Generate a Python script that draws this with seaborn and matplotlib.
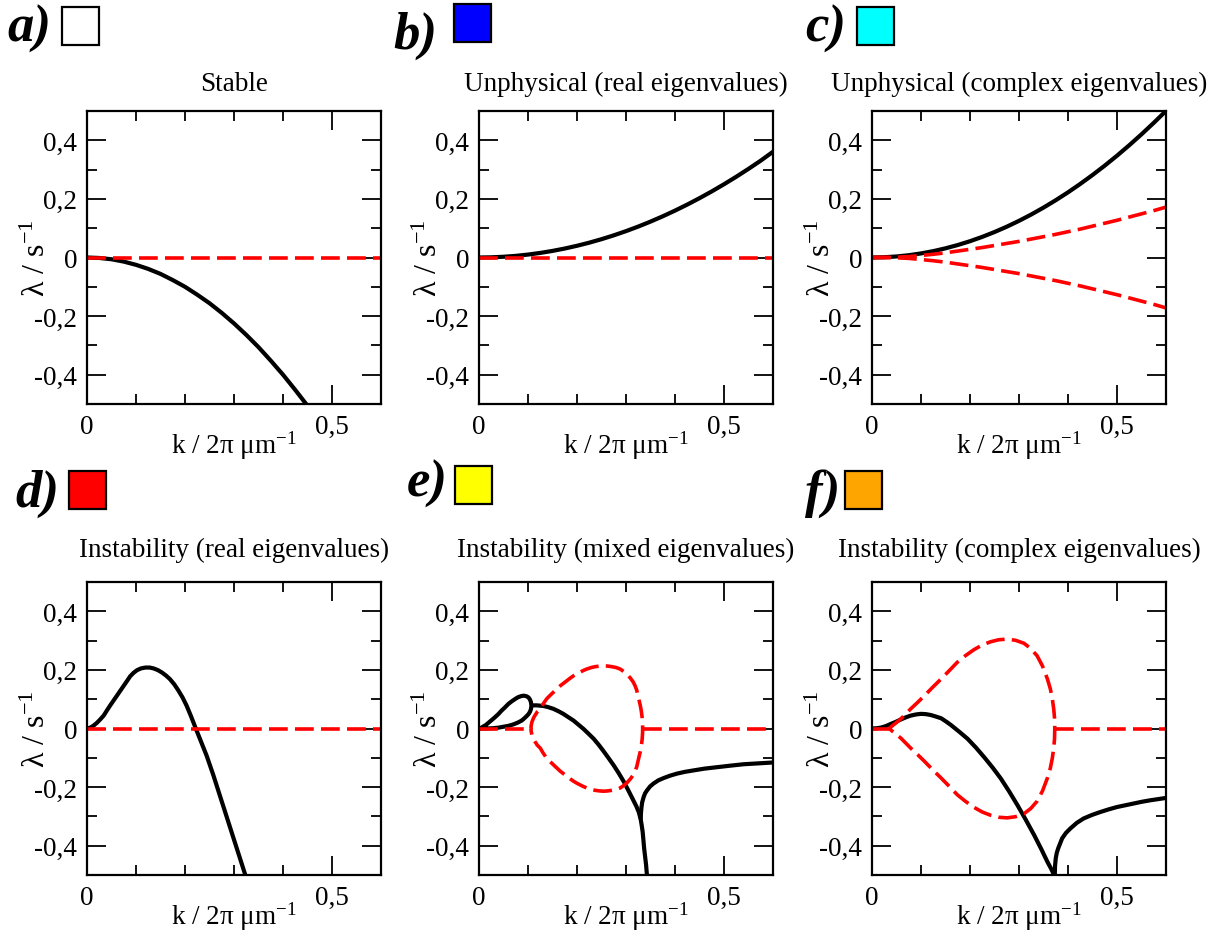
import matplotlib
matplotlib.use("Agg")
import matplotlib.pyplot as plt
from matplotlib.patches import Rectangle
import seaborn as sns

# ---------------- data ----------------
# a) Stable
a_k = [0, 0.025, 0.05, 0.075, 0.10, 0.125, 0.15, 0.175, 0.20, 0.225, 0.25, 0.275,
       0.30, 0.325, 0.35, 0.375, 0.40, 0.425, 0.45]
a_re = [0, -0.0016, -0.006, -0.014, -0.025, -0.039, -0.056, -0.077, -0.100, -0.127,
        -0.156, -0.189, -0.225, -0.264, -0.306, -0.352, -0.400, -0.452, -0.506]
a_zero_k = [0, 0.6]
a_zero_l = [0, 0]

# b) Unphysical (real eigenvalues)
b_k = [0, 0.025, 0.05, 0.075, 0.10, 0.125, 0.15, 0.175, 0.20, 0.225, 0.25, 0.275, 0.30,
       0.325, 0.35, 0.375, 0.40, 0.425, 0.45, 0.475, 0.50, 0.525, 0.55, 0.575, 0.60]
b_re = [0, 0.0006, 0.0025, 0.0056, 0.010, 0.0156, 0.0225, 0.0306, 0.040, 0.0506, 0.0625,
        0.0756, 0.090, 0.1056, 0.1225, 0.1406, 0.160, 0.1806, 0.2025, 0.2256, 0.250,
        0.2756, 0.3025, 0.3306, 0.361]
b_zero_k = [0, 0.6]
b_zero_l = [0, 0]

# c) Unphysical (complex eigenvalues)
c_k = [0, 0.025, 0.05, 0.075, 0.10, 0.125, 0.15, 0.175, 0.20, 0.225, 0.25, 0.275, 0.30,
       0.325, 0.35, 0.375, 0.40, 0.425, 0.45, 0.475, 0.50, 0.525, 0.55, 0.575, 0.60]
c_re = [0, 0.0009, 0.0035, 0.0078, 0.0139, 0.0217, 0.0313, 0.0426, 0.0556, 0.0704,
        0.0869, 0.1051, 0.1251, 0.1468, 0.1703, 0.1955, 0.2224, 0.2511, 0.2815, 0.3136,
        0.3475, 0.3831, 0.4205, 0.4596, 0.5004]
c_im_up = [0, 0.0002, 0.001, 0.003, 0.007, 0.011, 0.016, 0.022, 0.028, 0.034, 0.041,
           0.048, 0.055, 0.063, 0.071, 0.079, 0.088, 0.097, 0.107, 0.117, 0.127, 0.138,
           0.149, 0.160, 0.172]
c_im_dn = [-v for v in c_im_up]

# d) Instability (real eigenvalues)
d_k = [0, 0.005, 0.010, 0.015, 0.020, 0.027, 0.034, 0.040, 0.047, 0.054, 0.061, 0.068,
       0.075, 0.082, 0.088, 0.095, 0.102, 0.110, 0.119, 0.128, 0.136, 0.145, 0.153,
       0.161, 0.169, 0.178, 0.186, 0.195, 0.203, 0.212, 0.222, 0.233, 0.244, 0.258,
       0.271, 0.285, 0.298, 0.312, 0.325]
d_re = [0, 0.002, 0.006, 0.012, 0.019, 0.031, 0.044, 0.060, 0.078, 0.095, 0.112, 0.129,
        0.146, 0.163, 0.178, 0.190, 0.199, 0.205, 0.208, 0.208, 0.205, 0.199, 0.191,
        0.181, 0.169, 0.151, 0.131, 0.106, 0.079, 0.043, 0.0, -0.046, -0.092, -0.160,
        -0.228, -0.301, -0.369, -0.442, -0.510]
d_zero_k = [0, 0.6]
d_zero_l = [0, 0]

# e) Instability (mixed eigenvalues)
# small loop of two real eigenvalues (upper branch, then back along the lower one)
e_loop_k = [0, 0.004, 0.009, 0.014, 0.019, 0.026, 0.033, 0.040, 0.046, 0.053, 0.060,
            0.067, 0.074, 0.080, 0.087, 0.092, 0.097, 0.101, 0.104, 0.106, 0.107,
            0.106, 0.104, 0.101, 0.097, 0.092, 0.087, 0.079, 0.070, 0.060, 0.050,
            0.040, 0.029, 0.015, 0]
e_loop_l = [0, 0.002, 0.007, 0.012, 0.019, 0.029, 0.039, 0.050, 0.061, 0.072, 0.084,
            0.093, 0.101, 0.107, 0.111, 0.112, 0.110, 0.106, 0.099, 0.090, 0.078,
            0.066, 0.057, 0.049, 0.042, 0.034, 0.027, 0.020, 0.014, 0.009, 0.006,
            0.003, 0.001, 0.0, 0]
# real part of the complex pair, then the lower real branch
e_main_k = [0.107, 0.112, 0.118, 0.124, 0.131, 0.141, 0.152, 0.162, 0.172, 0.182, 0.193,
            0.203, 0.213, 0.223, 0.234, 0.244, 0.254, 0.264, 0.275, 0.285, 0.295, 0.305,
            0.315, 0.321, 0.326, 0.330, 0.332, 0.334, 0.3355, 0.337, 0.339, 0.341, 0.343]
e_main_l = [0.078, 0.079, 0.079, 0.078, 0.077, 0.073, 0.067, 0.059, 0.050, 0.039, 0.027,
            0.013, -0.001, -0.017, -0.035, -0.055, -0.077, -0.100, -0.126, -0.152, -0.180,
            -0.212, -0.245, -0.265, -0.285, -0.310, -0.330, -0.353, -0.380, -0.409,
            -0.437, -0.466, -0.506]
# upper real branch after the pair splits
e_up_k = [0.330, 0.3305, 0.3315, 0.333, 0.336, 0.339, 0.343, 0.349, 0.356, 0.366, 0.377,
          0.390, 0.404, 0.420, 0.438, 0.460, 0.486, 0.512, 0.540, 0.570, 0.600]
e_up_l = [-0.310, -0.290, -0.270, -0.252, -0.234, -0.221, -0.211, -0.198, -0.188, -0.177,
          -0.169, -0.161, -0.154, -0.148, -0.143, -0.137, -0.132, -0.127, -0.122,
          -0.119, -0.116]
# imaginary part (closed loop: upper half, then mirrored lower half)
e_im_k = [0.106, 0.1065, 0.108, 0.111, 0.114, 0.119, 0.125, 0.131, 0.138, 0.145, 0.152,
          0.159, 0.166, 0.173, 0.180, 0.187, 0.193, 0.200, 0.207, 0.213, 0.220, 0.229,
          0.237, 0.246, 0.254, 0.263, 0.271, 0.280, 0.288, 0.295, 0.302, 0.309, 0.315,
          0.319, 0.322, 0.326, 0.329, 0.331, 0.332, 0.333, 0.3338, 0.334]
e_im_up = [0, 0.010, 0.022, 0.035, 0.044, 0.057, 0.067, 0.084, 0.101, 0.113, 0.124,
           0.135, 0.146, 0.155, 0.164, 0.173, 0.180, 0.187, 0.193, 0.198, 0.203, 0.208,
           0.211, 0.213, 0.214, 0.213, 0.211, 0.208, 0.203, 0.195, 0.185, 0.172, 0.158,
           0.144, 0.130, 0.101, 0.080, 0.062, 0.050, 0.036, 0.016, 0]
e_zero1_k = [0, 0.106]
e_zero2_k = [0.334, 0.6]
e_zero_l = [0, 0]

# f) Instability (complex eigenvalues)
f_re_k = [0, 0.010, 0.018, 0.028, 0.039, 0.049, 0.059, 0.069, 0.079, 0.090, 0.100,
          0.110, 0.120, 0.130, 0.141, 0.151, 0.161, 0.178, 0.195, 0.212, 0.229, 0.246,
          0.263, 0.280, 0.297, 0.314, 0.331, 0.345, 0.358, 0.366, 0.373]
f_re_l = [0, 0.001, 0.003, 0.008, 0.016, 0.023, 0.031, 0.038, 0.044, 0.048, 0.050,
          0.049, 0.046, 0.041, 0.035, 0.024, 0.012, -0.011, -0.035, -0.065, -0.098,
          -0.133, -0.171, -0.215, -0.262, -0.312, -0.364, -0.410, -0.455, -0.480, -0.505]
f_up_k = [0.373, 0.3735, 0.375, 0.377, 0.380, 0.384, 0.388, 0.396, 0.405, 0.418, 0.432,
          0.449, 0.466, 0.483, 0.500, 0.517, 0.534, 0.551, 0.568, 0.584, 0.600]
f_up_l = [-0.505, -0.470, -0.443, -0.425, -0.409, -0.392, -0.375, -0.356, -0.341, -0.322,
          -0.307, -0.295, -0.285, -0.276, -0.268, -0.262, -0.256, -0.250, -0.245,
          -0.241, -0.237]
f_im_k = [0.035, 0.042, 0.049, 0.059, 0.069, 0.079, 0.093, 0.107, 0.124, 0.141, 0.158,
          0.174, 0.191, 0.208, 0.225, 0.242, 0.259, 0.276, 0.293, 0.310, 0.324, 0.337,
          0.348, 0.358, 0.364, 0.368, 0.371, 0.3725, 0.373]
f_im_up = [0, 0.010, 0.019, 0.033, 0.050, 0.067, 0.089, 0.112, 0.141, 0.169, 0.198,
           0.226, 0.249, 0.269, 0.285, 0.296, 0.303, 0.305, 0.301, 0.291, 0.273, 0.248,
           0.213, 0.169, 0.135, 0.101, 0.065, 0.035, 0]
f_zero1_k = [0, 0.035]
f_zero2_k = [0.373, 0.6]
f_zero_l = [0, 0]

titles = ["Stable", "Unphysical (real eigenvalues)", "Unphysical (complex eigenvalues)",
          "Instability (real eigenvalues)", "Instability (mixed eigenvalues)",
          "Instability (complex eigenvalues)"]
letters = ["a)", "b)", "c)", "d)", "e)", "f)"]
swatch_colors = ["#ffffff", "#0000ff", "#00ffff", "#ff0000", "#ffff00", "#ffa500"]

xtick_major = [0, 0.5]
xtick_labels = ["0", "0,5"]
xtick_minor = [0.1, 0.2, 0.3, 0.4]
ytick_major = [-0.4, -0.2, 0, 0.2, 0.4]
ytick_labels = ["-0,4", "-0,2", "0", "0,2", "0,4"]
ytick_minor = [-0.3, -0.1, 0.1, 0.3]

# ---------------- style ----------------
sns.set_style("ticks")
plt.rcParams['font.family'] = ['Liberation Serif', 'DejaVu Serif']
plt.rcParams['mathtext.fontset'] = 'custom'
plt.rcParams['mathtext.rm'] = 'Liberation Serif'
plt.rcParams['mathtext.it'] = 'Liberation Serif:italic'
plt.rcParams['mathtext.bf'] = 'Liberation Serif:bold'

W, H = 1218, 937
fig = plt.figure(figsize=(W / 100, H / 100), dpi=100)
fig.patch.set_facecolor("white")

FS = 19.5
ax_lefts = [87, 479, 872]
ax_tops = [112, 583]
AW, AH = 294, 293

axes = []
for r in range(2):
    for c in range(3):
        l = ax_lefts[c] / W
        b = 1 - (ax_tops[r] + AH) / H
        axes.append(fig.add_axes([l, b, AW / W, AH / H]))

BLACK = dict(color="black", lw=3.0, solid_capstyle="butt", solid_joinstyle="round")
RED = dict(color="red", lw=2.6, linestyle=(0, (5.2, 2.0)), dash_capstyle="butt")


def solid(ax, x, y):
    sns.lineplot(x=x, y=y, ax=ax, sort=False, estimator=None, legend=False, **BLACK)


def dashed(ax, x, y):
    sns.lineplot(x=x, y=y, ax=ax, sort=False, estimator=None, legend=False, **RED)


def loop(k, up):
    kk = list(k) + list(k[::-1])
    ll = list(up) + [-v for v in up[::-1]]
    return kk, ll


# a
solid(axes[0], a_k, a_re)
dashed(axes[0], a_zero_k, a_zero_l)
# b
solid(axes[1], b_k, b_re)
dashed(axes[1], b_zero_k, b_zero_l)
# c
solid(axes[2], c_k, c_re)
dashed(axes[2], c_k, c_im_up)
dashed(axes[2], c_k, c_im_dn)
# d
solid(axes[3], d_k, d_re)
dashed(axes[3], d_zero_k, d_zero_l)
# e
solid(axes[4], e_loop_k, e_loop_l)
solid(axes[4], e_main_k, e_main_l)
solid(axes[4], e_up_k, e_up_l)
ek, el = loop(e_im_k, e_im_up)
dashed(axes[4], ek, el)
dashed(axes[4], e_zero1_k, e_zero_l)
dashed(axes[4], e_zero2_k, e_zero_l)
# f
solid(axes[5], f_re_k, f_re_l)
solid(axes[5], f_up_k, f_up_l)
fk, fl = loop(f_im_k, f_im_up)
dashed(axes[5], fk, fl)
dashed(axes[5], f_zero1_k, f_zero_l)
dashed(axes[5], f_zero2_k, f_zero_l)

for ax in axes:
    ax.set_xlim(0, 0.6)
    ax.set_ylim(-0.5, 0.5)
    ax.set_xticks(xtick_major)
    ax.set_xticklabels(xtick_labels)
    ax.set_xticks(xtick_minor, minor=True)
    ax.set_yticks(ytick_major)
    ax.set_yticklabels(ytick_labels)
    ax.set_yticks(ytick_minor, minor=True)
    ax.tick_params(which="both", direction="in", top=True, right=True,
                   width=1.3, color="black", labelsize=FS, labelcolor="black")
    ax.tick_params(which="major", length=14, pad=7)
    ax.tick_params(which="minor", length=7)
    for s in ax.spines.values():
        s.set_linewidth(1.6)
        s.set_color("black")
        s.set_visible(True)
    ax.set_xlabel("k / 2π μm$^{-1}$", fontsize=FS, color="black")
    ax.set_ylabel("λ / s$^{-1}$", fontsize=23, color="black")
    ax.xaxis.set_label_coords(0.5, -0.085)
    ax.yaxis.set_label_coords(-0.12, 0.5)
    ax.set_facecolor("white")

# titles
title_base = [91, 557]
for i, ax in enumerate(axes):
    r, c = divmod(i, 3)
    cx = (ax_lefts[c] + AW / 2) / W
    fig.text(cx, 1 - title_base[r] / H, titles[i], ha="center", va="baseline",
             fontsize=FS, color="black")

# panel letters and colour swatches
letter_pos = [(7, 42), (393, 49), (805, 42), (15, 507), (407, 497), (805, 507)]
swatch_pos = [(62, 8), (454, 5), (857, 8), (69, 472), (455, 467), (845, 472)]
for i in range(6):
    lx, ly = letter_pos[i]
    fig.text(lx / W, 1 - ly / H, letters[i], ha="left", va="baseline",
             fontsize=38, fontweight="bold", fontstyle="italic", color="black")
    sx, sy = swatch_pos[i]
    fig.patches.append(Rectangle((sx / W, 1 - (sy + 38) / H), 37 / W, 38 / H,
                                 transform=fig.transFigure, facecolor=swatch_colors[i],
                                 edgecolor="black", linewidth=1.6))

fig.savefig("out.png", dpi=100)
